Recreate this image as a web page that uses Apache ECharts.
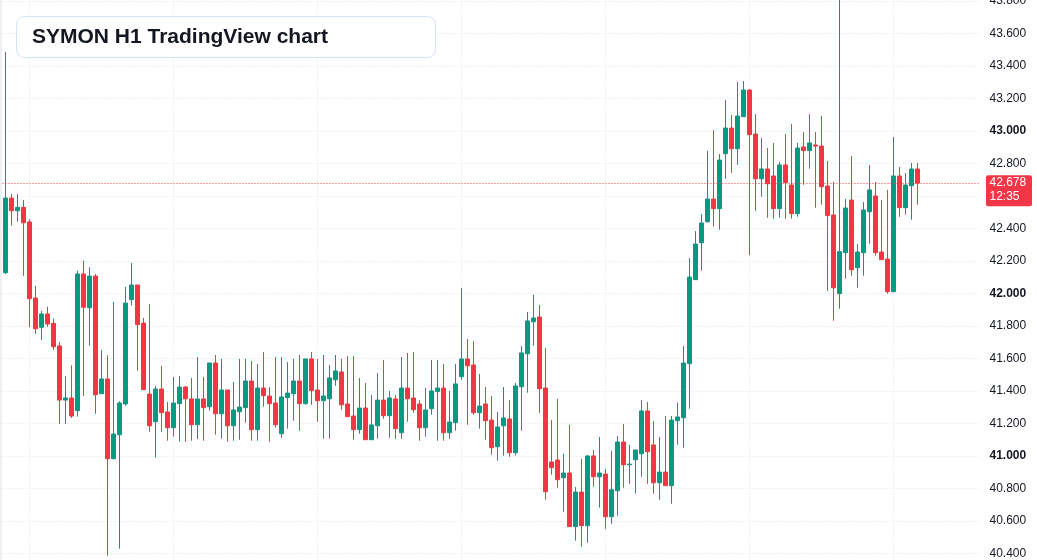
<!DOCTYPE html>
<html>
<head>
<meta charset="utf-8">
<title>SYMON H1 TradingView chart</title>
<script src="https://cdn.jsdelivr.net/npm/echarts@6.0.0/dist/echarts.min.js"></script>
<style>
  html, body { margin: 0; padding: 0; background: #fff; }
  #chart { width: 1037px; height: 560px; }
  #edge { position: absolute; left: 0; top: 0; width: 2px; height: 560px; background: #eef0f3; }
</style>
</head>
<body>
<div id="chart"></div>
<div id="edge"></div>
<script>
// H1 candles
const opens = [
  42.127, 42.586, 42.508, 42.529, 42.439, 41.971, 41.791, 41.873, 41.815, 41.676,
  41.343, 41.356, 41.278, 42.119, 41.911, 42.106, 41.382, 41.473, 40.982, 41.130,
  41.319, 41.961, 42.051, 41.817, 41.380, 41.210, 41.411, 41.270, 41.173, 41.321,
  41.423, 41.350, 41.191, 41.350, 41.302, 41.571, 41.259, 41.405, 41.185, 41.271,
  41.296, 41.460, 41.161, 41.417, 41.368, 41.325, 41.136, 41.358, 41.382, 41.460,
  41.321, 41.596, 41.405, 41.339, 41.351, 41.468, 41.516, 41.319, 41.245, 41.161,
  41.294, 41.099, 41.185, 41.343, 41.247, 41.350, 41.142, 41.417, 41.356, 41.319,
  41.173, 41.290, 41.395, 41.417, 41.142, 41.204, 41.487, 41.596, 41.559, 41.265,
  41.319, 41.220, 41.056, 41.185, 41.227, 41.019, 41.425, 41.628, 41.825, 41.854,
  41.417, 40.962, 40.974, 40.865, 40.894, 40.564, 40.777, 40.570, 40.999, 40.871,
  40.888, 40.625, 40.785, 41.085, 40.945, 40.976, 41.013, 41.276, 41.067, 40.834,
  40.900, 40.816, 41.216, 41.234, 41.567, 42.084, 42.311, 42.441, 42.580, 42.521,
  42.859, 43.017, 42.890, 43.087, 43.251, 42.980, 42.705, 42.765, 42.722, 42.521,
  42.790, 42.666, 42.490, 42.900, 42.878, 42.913, 42.906, 42.660, 42.482, 41.998,
  42.250, 42.574, 42.158, 42.250, 42.502, 42.599, 42.254, 42.211, 42.010, 42.722,
  42.527, 42.662, 42.765
];
const closes = [
  42.586, 42.508, 42.529, 42.434, 41.967, 41.782, 41.873, 41.811, 41.671, 41.343,
  41.356, 41.245, 42.119, 41.914, 42.106, 41.376, 41.473, 40.982, 41.134, 41.325,
  41.940, 42.051, 41.807, 41.407, 41.185, 41.411, 41.265, 41.173, 41.325, 41.423,
  41.351, 41.191, 41.350, 41.296, 41.571, 41.259, 41.405, 41.185, 41.282, 41.300,
  41.460, 41.161, 41.417, 41.370, 41.321, 41.191, 41.362, 41.386, 41.460, 41.321,
  41.596, 41.401, 41.339, 41.368, 41.479, 41.522, 41.314, 41.241, 41.161, 41.294,
  41.099, 41.190, 41.343, 41.247, 41.356, 41.167, 41.417, 41.351, 41.284, 41.173,
  41.282, 41.399, 41.417, 41.142, 41.208, 41.442, 41.596, 41.554, 41.265, 41.306,
  41.216, 41.050, 41.177, 41.233, 41.019, 41.430, 41.633, 41.830, 41.848, 41.413,
  40.779, 40.927, 40.853, 40.894, 40.564, 40.777, 40.570, 40.999, 40.871, 40.894,
  40.625, 40.791, 41.085, 40.945, 40.949, 41.036, 41.276, 41.025, 40.834, 40.900,
  40.816, 41.220, 41.239, 41.571, 42.100, 42.303, 42.433, 42.580, 42.521, 42.820,
  43.017, 42.890, 43.091, 43.251, 42.976, 42.705, 42.765, 42.674, 42.521, 42.790,
  42.681, 42.490, 42.894, 42.878, 42.925, 42.906, 42.656, 42.478, 42.034, 42.256,
  42.525, 42.145, 42.254, 42.513, 42.636, 42.250, 42.207, 42.010, 42.722, 42.527,
  42.666, 42.765, 42.678
];
const lows = [
  42.119, 42.416, 42.441, 42.108, 41.791, 41.750, 41.713, 41.794, 41.651, 41.196,
  41.196, 41.233, 41.241, 41.368, 41.678, 41.259, 41.382, 40.385, 40.982, 40.428,
  41.308, 41.924, 41.524, 41.407, 41.148, 40.988, 41.148, 41.093, 41.118, 41.087,
  41.087, 41.093, 41.103, 41.093, 41.278, 41.130, 41.105, 41.087, 41.093, 41.099,
  41.204, 41.093, 41.093, 41.302, 41.087, 41.173, 41.111, 41.167, 41.216, 41.155,
  41.314, 41.314, 41.210, 41.105, 41.105, 41.431, 41.284, 41.241, 41.099, 41.136,
  41.099, 41.099, 41.105, 41.228, 41.111, 41.105, 41.105, 41.210, 41.265, 41.093,
  41.118, 41.253, 41.093, 41.093, 41.105, 41.155, 41.468, 41.191, 41.253, 41.167,
  41.099, 41.007, 40.970, 41.001, 40.994, 41.001, 41.155, 41.388, 41.678, 41.265,
  40.730, 40.884, 40.804, 40.656, 40.564, 40.478, 40.441, 40.465, 40.810, 40.681,
  40.551, 40.582, 40.631, 40.804, 40.828, 40.767, 40.871, 40.828, 40.767, 40.730,
  40.816, 40.705, 41.068, 41.050, 41.290, 42.084, 42.139, 42.434, 42.410, 42.391,
  42.705, 42.742, 42.791, 43.087, 42.234, 42.508, 42.594, 42.465, 42.459, 42.465,
  42.459, 42.459, 42.471, 42.668, 42.767, 42.527, 42.545, 42.016, 41.831, 41.905,
  42.090, 42.108, 42.034, 42.108, 42.305, 42.231, 42.207, 41.998, 42.010, 42.471,
  42.484, 42.453, 42.545
];
const highs = [
  43.485, 42.611, 42.611, 42.574, 42.455, 42.045, 41.893, 41.918, 41.844, 41.700,
  41.491, 41.557, 42.139, 42.201, 42.160, 42.119, 41.651, 41.618, 41.946, 41.335,
  42.039, 42.186, 42.051, 41.848, 41.934, 41.430, 41.553, 41.331, 41.485, 41.491,
  41.430, 41.479, 41.608, 41.485, 41.571, 41.620, 41.596, 41.405, 41.454, 41.596,
  41.596, 41.583, 41.565, 41.639, 41.423, 41.608, 41.608, 41.577, 41.596, 41.620,
  41.596, 41.639, 41.596, 41.620, 41.559, 41.620, 41.596, 41.614, 41.614, 41.479,
  41.448, 41.374, 41.510, 41.590, 41.399, 41.374, 41.608, 41.633, 41.639, 41.343,
  41.417, 41.590, 41.590, 41.565, 41.399, 41.565, 42.033, 41.719, 41.706, 41.503,
  41.423, 41.368, 41.270, 41.423, 41.343, 41.448, 41.676, 41.885, 41.990, 41.928,
  41.663, 41.220, 41.350, 41.013, 41.190, 40.808, 40.981, 41.005, 41.036, 41.116,
  40.919, 41.030, 41.122, 41.196, 41.067, 41.036, 41.343, 41.331, 41.214, 41.116,
  41.245, 41.245, 41.327, 41.676, 42.217, 42.383, 42.488, 42.876, 43.005, 42.857,
  43.190, 43.097, 43.300, 43.306, 43.257, 43.103, 42.956, 42.894, 42.925, 42.808,
  42.980, 43.042, 42.925, 42.992, 43.103, 42.992, 43.091, 42.814, 42.687, 43.900,
  42.580, 42.845, 42.303, 42.562, 42.790, 42.685, 42.574, 42.636, 42.962, 42.777,
  42.740, 42.802, 42.802
];

// hourly slots, last ten are still empty
const dayNames = ['Sun', 'Mon', 'Tue', 'Wed', 'Thu', 'Fri', 'Sat'];
const slotCount = 163;
const hours = [];
for (let i = 0; i < slotCount; i++) {
    const h = (20 + i) % 24;
    const d = Math.floor((20 + i) / 24);
    hours.push(dayNames[d % 7] + ' ' + String(h).padStart(2, '0') + ':00');
}

const countdown = '12:35';
const lastPrice = closes[closes.length - 1];

const UP = '#089981';
const DOWN = '#f23645';
const GRID = '#e0e3eb';
const FONT = '"Liberation Sans", Arial, sans-serif';

const ohlc = opens.map((o, i) => [o, closes[i], lows[i], highs[i]]);

const chart = echarts.init(document.getElementById('chart'));

chart.setOption({
    animation: false,
    backgroundColor: '#ffffff',
    grid: {
        left: 2.5,
        right: 56.5,
        top: -31.7,
        bottom: -25.8,
        outerBoundsMode: 'none',
    },
    xAxis: {
        type: 'category',
        data: hours,
        boundaryGap: true,
        axisLine: { show: false },
        axisTick: { show: false },
        axisLabel: { show: false },
        splitLine: {
            show: true,
            alignWithLabel: true,
            interval: (i, v) => v.slice(-5) === '00:00',
            lineStyle: { color: GRID, type: [1, 2] },
        },
    },
    yAxis: {
        type: 'value',
        position: 'right',
        min: 40.2,
        max: 44.0,
        interval: 0.2,
        axisLine: { show: false },
        axisTick: { show: false },
        axisLabel: {
            margin: 9,
            color: '#131722',
            fontSize: 12,
            fontFamily: FONT,
            formatter: (v) => {
                const s = v.toFixed(3);
                return Math.abs(v - Math.round(v)) < 1e-6 ? '{b|' + s + '}' : s;
            },
            rich: {
                b: { fontWeight: 'bold', fontSize: 12, color: '#131722', fontFamily: FONT },
            },
        },
        splitLine: {
            lineStyle: { color: GRID, type: [1, 2] },
        },
    },
    series: [
        {
            type: 'candlestick',
            data: ohlc,
            barWidth: 4,
            itemStyle: {
                color: UP,
                color0: DOWN,
                borderColor: UP,
                borderColor0: DOWN,
                borderWidth: 1,
            },
            markLine: {
                silent: true,
                symbol: ['none', 'none'],
                label: { show: false },
                lineStyle: { color: DOWN, type: [1, 2], width: 1 },
                data: [{ yAxis: lastPrice }],
            },
        },
    ],
});

// title box + price tag on the axis
const py = chart.convertToPixel({ yAxisIndex: 0 }, lastPrice);

chart.setOption({
    graphic: [
        {
            type: 'rect',
            shape: { x: 16.5, y: 16.5, width: 419, height: 41, r: 8 },
            style: { fill: '#ffffff', stroke: '#d3e2f6', lineWidth: 1 },
            z: 100,
        },
        {
            type: 'text',
            x: 32,
            y: 37,
            style: {
                text: 'SYMON H1 TradingView chart',
                fill: '#131722',
                font: 'bold 21px ' + FONT,
                verticalAlign: 'middle',
            },
            z: 101,
        },
        {
            type: 'rect',
            shape: { x: 986, y: py - 8, width: 46, height: 31, r: 2 },
            style: { fill: DOWN },
            z: 100,
        },
        {
            type: 'text',
            x: 989.5,
            y: py,
            style: {
                text: lastPrice.toFixed(3),
                fill: '#ffffff',
                font: '12px ' + FONT,
                verticalAlign: 'middle',
            },
            z: 101,
        },
        {
            type: 'text',
            x: 989.5,
            y: py + 14,
            style: {
                text: countdown,
                fill: '#ffffff',
                font: '12px ' + FONT,
                verticalAlign: 'middle',
            },
            z: 101,
        },
    ],
});
</script>
</body>
</html>
